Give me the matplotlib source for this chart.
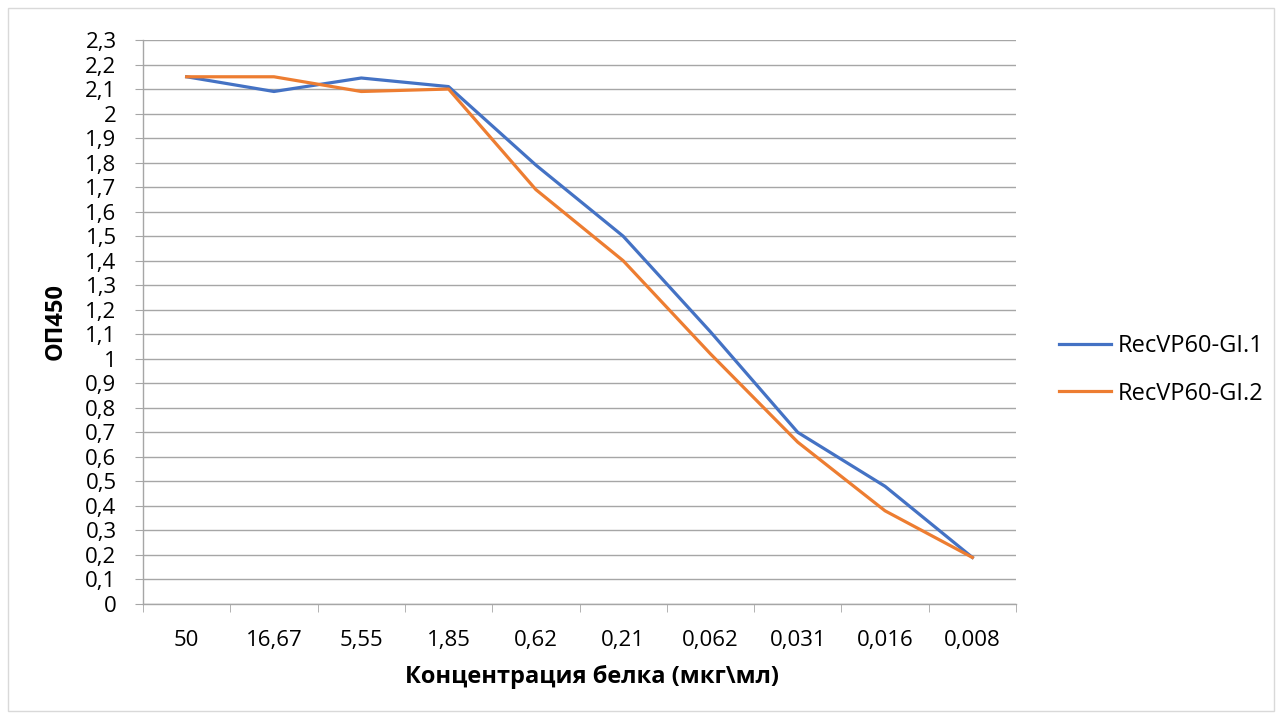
import matplotlib
matplotlib.use("Agg")
import matplotlib.pyplot as plt
from matplotlib.patches import Rectangle

# ELISA titration data
concentrations = ["50", "16,67", "5,55", "1,85", "0,62", "0,21", "0,062", "0,031", "0,016", "0,008"]
od_gi1 = [2.15, 2.09, 2.145, 2.11, 1.79, 1.50, 1.11, 0.70, 0.48, 0.19]
od_gi2 = [2.15, 2.15, 2.09, 2.10, 1.69, 1.40, 1.02, 0.66, 0.38, 0.19]
series_names = ["RecVP60-GI.1", "RecVP60-GI.2"]
y_ticks = [round(i * 0.1, 1) for i in range(24)]

plt.rcParams["font.family"] = ["Open Sans", "DejaVu Sans"]

W, H = 1282, 719
fig = plt.figure(figsize=(W / 100, H / 100), dpi=100)

# chart frame
fig.patches.append(Rectangle((8 / W, 8 / H), 1 - 16 / W, 1 - 16 / H, transform=fig.transFigure,
                             fill=False, edgecolor="#d9d9d9", linewidth=1))

left, right, top, bottom = 143, 1016, 40, 604
ax = fig.add_axes([left / W, 1 - bottom / H, (right - left) / W, (bottom - top) / H])

x = list(range(len(concentrations)))
ax.plot(x, od_gi1, color="#4472C4", linewidth=2.3, label=series_names[0], solid_joinstyle="round")
ax.plot(x, od_gi2, color="#ED7D31", linewidth=2.3, label=series_names[1], solid_joinstyle="round")

ax.set_xlim(-0.5, len(concentrations) - 0.5)
ax.set_ylim(0, 2.3)
ax.set_yticks(y_ticks)
ax.set_yticklabels([("%g" % v).replace(".", ",") for v in y_ticks])
ax.set_xticks(x)
ax.set_xticklabels(concentrations)
ax.set_xticks([i - 0.5 for i in range(len(concentrations) + 1)], minor=True)

ax.grid(axis="y", color="#a6a6a6", linewidth=1)
ax.set_axisbelow(True)
for side in ["top", "right"]:
    ax.spines[side].set_visible(False)
for side in ["left", "bottom"]:
    ax.spines[side].set_color("#a6a6a6")
    ax.spines[side].set_linewidth(1)

ax.tick_params(axis="y", length=6, color="#a6a6a6", labelsize=16, pad=13)
ax.tick_params(axis="x", which="major", length=0, labelsize=16, pad=19)
ax.tick_params(axis="x", which="minor", length=6, color="#a6a6a6")

# axis titles placed directly in axes coordinates
ax.text(-0.1, 0.5, "ОП450", transform=ax.transAxes, rotation=90, rotation_mode="anchor",
        ha="center", va="center", fontsize=17, fontweight="bold")
ax.text(0.514, -0.13, "Концентрация белка (мкг\\мл)", transform=ax.transAxes,
        ha="center", va="center", fontsize=17, fontweight="bold")

ax.legend(loc="center left", bbox_to_anchor=(1.0246, 0.415), frameon=False, fontsize=17,
          handlelength=2.2, labelspacing=1.0, handletextpad=0.3)

fig.savefig("out.png", dpi=100)
